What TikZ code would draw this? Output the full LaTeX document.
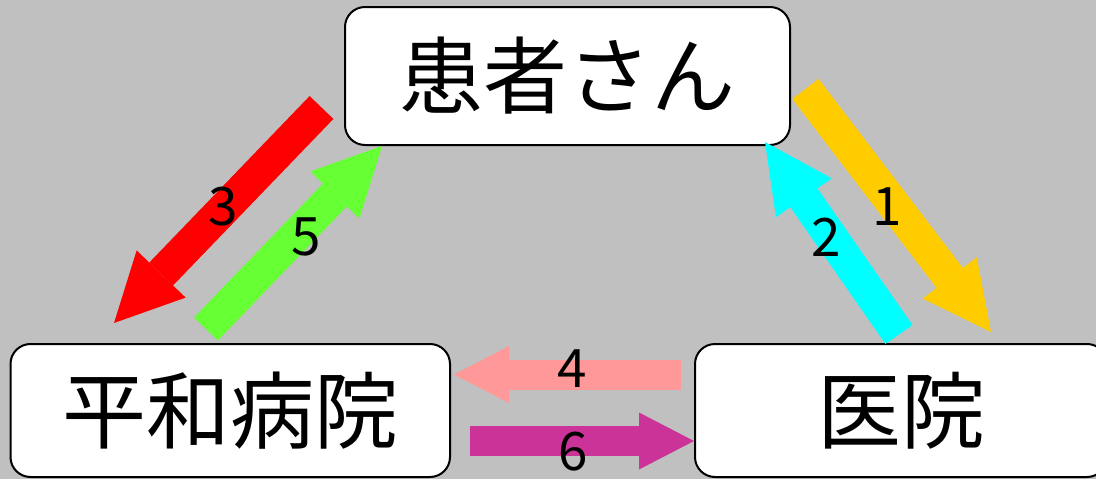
\documentclass[tikz,border=0pt]{standalone}
\usepackage{fontspec}
\setmainfont{Noto Sans CJK JP}
\usetikzlibrary{arrows.meta}
\definecolor{bg}{HTML}{C0C0C0}
\definecolor{cred}{HTML}{FF0000}
\definecolor{cgreen}{HTML}{66FF33}
\definecolor{cyellow}{HTML}{FFCC00}
\definecolor{ccyan}{HTML}{00FFFF}
\definecolor{cpink}{HTML}{FF9999}
\definecolor{cmag}{HTML}{CC3399}
\begin{document}
\begin{tikzpicture}[x=1pt,y=-1pt,
  box/.style={draw=black, line width=2pt, fill=white, rounded corners=20pt,
    inner sep=0pt, font=\fontsize{84}{84}\selectfont},
  diagarrow/.style={line width=33pt, -{Triangle[length=68pt,width=68pt,line width=0pt]}},
  horizarrow/.style={line width=30pt, -{Triangle[length=55pt,width=57pt,line width=0pt]}},
  lbl/.style={font=\fontsize{53}{53}\selectfont, inner sep=0pt}]
\useasboundingbox (0,0) rectangle (1096,479);
\fill[bg] (0,0) rectangle (1096,479);
% boxes
\node[box, minimum width=445pt, minimum height=138pt] (patient) at (567.5,76) {患者さん};
\node[box, minimum width=439.5pt, minimum height=133pt] (hospital) at (230.25,410.5) {平和病院};
\node[box, minimum width=412pt, minimum height=133pt] (clinic) at (901,410.5) {医院};
% arrow end points
\coordinate (r3s) at (321.5,107.5); \coordinate (r3e) at (114,323);
\coordinate (g5s) at (206,329);     \coordinate (g5e) at (382,146);
\coordinate (y1s) at (805.5,89);    \coordinate (y1e) at (991,332);
\coordinate (c2s) at (899,334.5);   \coordinate (c2e) at (765,142);
\coordinate (p4s) at (681,374.5);   \coordinate (p4e) at (454,374.5);
\coordinate (m6s) at (470,441);     \coordinate (m6e) at (694,441);
% arrows
\draw[diagarrow, cred]    (r3s) -- (r3e);
\draw[diagarrow, cgreen]  (g5s) -- (g5e);
\draw[diagarrow, cyellow] (y1s) -- (y1e);
\draw[diagarrow, ccyan]   (c2s) -- (c2e);
\draw[horizarrow, cpink]  (p4s) -- (p4e);
\draw[horizarrow, cmag]   (m6s) -- (m6e);
% labels
\node[lbl] (l3) at (223.5,207) {3};
\node[lbl] (l5) at (306,237) {5};
\node[lbl] (l1) at (887,207) {1};
\node[lbl] (l2) at (826.5,237) {2};
\node[lbl] (l4) at (572,369) {4};
\node[lbl] (l6) at (573,452) {6};
\end{tikzpicture}
\end{document}
